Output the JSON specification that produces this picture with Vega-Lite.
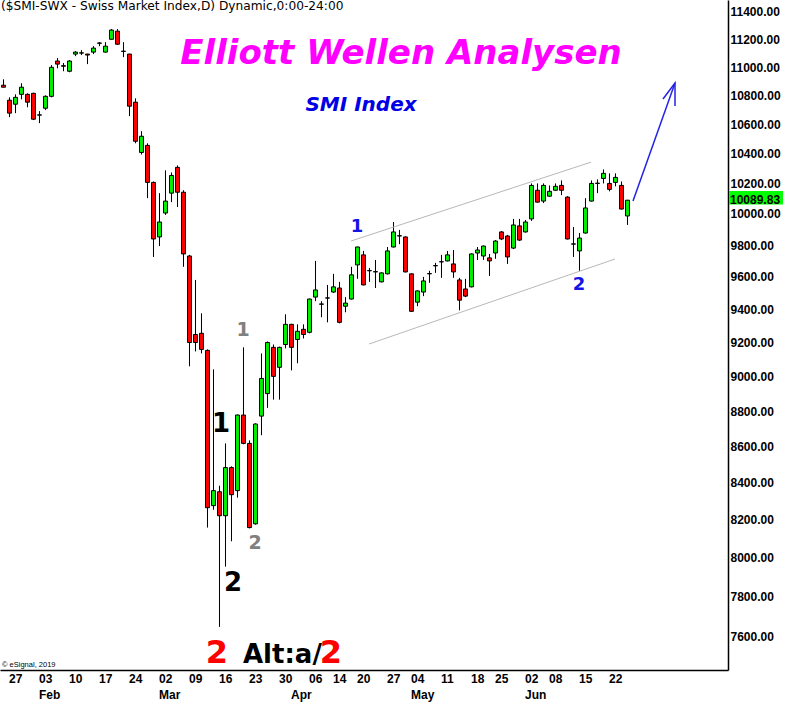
{
  "$schema": "https://vega.github.io/schema/vega-lite/v6.json",
  "width": 728,
  "height": 670,
  "autosize": {"type": "none"},
  "padding": {"left": 0, "top": 0, "right": 58, "bottom": 37},
  "background": "#ffffff",
  "config": {"view": {"stroke": null}},
  "data": {"values": [
    {"date":"2020-01-24","open":10871,"high":10913,"low":10857,"close":10857},
    {"date":"2020-01-27","open":10766,"high":10786,"low":10648,"close":10676},
    {"date":"2020-01-28","open":10738,"high":10807,"low":10676,"close":10786},
    {"date":"2020-01-29","open":10807,"high":10885,"low":10772,"close":10857},
    {"date":"2020-01-30","open":10807,"high":10814,"low":10717,"close":10752},
    {"date":"2020-01-31","open":10814,"high":10818,"low":10628,"close":10634},
    {"date":"2020-02-03","open":10662,"high":10690,"low":10607,"close":10664},
    {"date":"2020-02-04","open":10710,"high":10800,"low":10697,"close":10793},
    {"date":"2020-02-05","open":10793,"high":11014,"low":10786,"close":10998},
    {"date":"2020-02-06","open":11043,"high":11064,"low":10991,"close":11021},
    {"date":"2020-02-07","open":11010,"high":11029,"low":10970,"close":11006},
    {"date":"2020-02-10","open":10970,"high":11050,"low":10963,"close":11043},
    {"date":"2020-02-11","open":11093,"high":11114,"low":11078,"close":11107},
    {"date":"2020-02-12","open":11100,"high":11121,"low":11086,"close":11102},
    {"date":"2020-02-13","open":11093,"high":11095,"low":11021,"close":11086},
    {"date":"2020-02-14","open":11107,"high":11150,"low":11093,"close":11136},
    {"date":"2020-02-17","open":11171,"high":11179,"low":11150,"close":11173},
    {"date":"2020-02-18","open":11107,"high":11179,"low":11105,"close":11150},
    {"date":"2020-02-19","open":11200,"high":11274,"low":11198,"close":11267},
    {"date":"2020-02-20","open":11259,"high":11274,"low":11160,"close":11164},
    {"date":"2020-02-21","open":11114,"high":11179,"low":11071,"close":11112},
    {"date":"2020-02-24","open":11093,"high":11095,"low":10655,"close":10724},
    {"date":"2020-02-25","open":10752,"high":10779,"low":10469,"close":10483},
    {"date":"2020-02-26","open":10407,"high":10552,"low":10393,"close":10517},
    {"date":"2020-02-27","open":10455,"high":10469,"low":10103,"close":10207},
    {"date":"2020-02-28","open":10207,"high":10213,"low":9725,"close":9839},
    {"date":"2020-03-02","open":9852,"high":10136,"low":9794,"close":9948},
    {"date":"2020-03-03","open":10006,"high":10287,"low":9994,"close":10084},
    {"date":"2020-03-04","open":10136,"high":10273,"low":10077,"close":10253},
    {"date":"2020-03-05","open":10307,"high":10320,"low":10045,"close":10142},
    {"date":"2020-03-06","open":10142,"high":10155,"low":9663,"close":9744},
    {"date":"2020-03-09","open":9731,"high":9738,"low":9059,"close":9200},
    {"date":"2020-03-10","open":9248,"high":9581,"low":9147,"close":9200},
    {"date":"2020-03-11","open":9255,"high":9376,"low":9135,"close":9159},
    {"date":"2020-03-12","open":9153,"high":9159,"low":8159,"close":8265},
    {"date":"2020-03-13","open":8276,"high":9041,"low":8254,"close":8357},
    {"date":"2020-03-16","open":8351,"high":8384,"low":7650,"close":8222},
    {"date":"2020-03-17","open":8222,"high":8617,"low":7955,"close":8483},
    {"date":"2020-03-18","open":8483,"high":8490,"low":8087,"close":8335},
    {"date":"2020-03-19","open":8357,"high":8780,"low":8319,"close":8777},
    {"date":"2020-03-20","open":8777,"high":9171,"low":8612,"close":8617},
    {"date":"2020-03-23","open":8617,"high":8634,"low":8155,"close":8159},
    {"date":"2020-03-24","open":8179,"high":8730,"low":8175,"close":8726},
    {"date":"2020-03-25","open":8771,"high":9135,"low":8663,"close":8988},
    {"date":"2020-03-26","open":8900,"high":9206,"low":8818,"close":9200},
    {"date":"2020-03-27","open":9171,"high":9188,"low":8865,"close":9000},
    {"date":"2020-03-30","open":9053,"high":9175,"low":8865,"close":9171},
    {"date":"2020-03-31","open":9188,"high":9370,"low":9165,"close":9309},
    {"date":"2020-04-01","open":9309,"high":9312,"low":9035,"close":9171},
    {"date":"2020-04-02","open":9218,"high":9309,"low":9077,"close":9267},
    {"date":"2020-04-03","open":9279,"high":9309,"low":9224,"close":9248},
    {"date":"2020-04-06","open":9261,"high":9466,"low":9255,"close":9463},
    {"date":"2020-04-07","open":9475,"high":9700,"low":9450,"close":9519},
    {"date":"2020-04-08","open":9431,"high":9450,"low":9352,"close":9433},
    {"date":"2020-04-09","open":9469,"high":9550,"low":9321,"close":9470},
    {"date":"2020-04-14","open":9506,"high":9619,"low":9500,"close":9538},
    {"date":"2020-04-15","open":9531,"high":9569,"low":9315,"close":9321},
    {"date":"2020-04-16","open":9419,"high":9475,"low":9382,"close":9438},
    {"date":"2020-04-17","open":9463,"high":9663,"low":9460,"close":9613},
    {"date":"2020-04-20","open":9675,"high":9790,"low":9588,"close":9788},
    {"date":"2020-04-21","open":9738,"high":9763,"low":9548,"close":9550},
    {"date":"2020-04-22","open":9638,"high":9656,"low":9569,"close":9640},
    {"date":"2020-04-23","open":9631,"high":9706,"low":9531,"close":9633},
    {"date":"2020-04-24","open":9569,"high":9628,"low":9566,"close":9625},
    {"date":"2020-04-27","open":9619,"high":9788,"low":9615,"close":9763},
    {"date":"2020-04-28","open":9788,"high":9948,"low":9785,"close":9884},
    {"date":"2020-04-29","open":9858,"high":9897,"low":9806,"close":9860},
    {"date":"2020-04-30","open":9852,"high":9855,"low":9628,"close":9631},
    {"date":"2020-05-04","open":9619,"high":9622,"low":9385,"close":9388},
    {"date":"2020-05-05","open":9444,"high":9516,"low":9419,"close":9513},
    {"date":"2020-05-06","open":9506,"high":9600,"low":9481,"close":9575},
    {"date":"2020-05-07","open":9619,"high":9638,"low":9563,"close":9621},
    {"date":"2020-05-08","open":9669,"high":9688,"low":9625,"close":9671},
    {"date":"2020-05-11","open":9694,"high":9738,"low":9594,"close":9695},
    {"date":"2020-05-12","open":9700,"high":9763,"low":9697,"close":9738},
    {"date":"2020-05-13","open":9681,"high":9769,"low":9594,"close":9631},
    {"date":"2020-05-14","open":9581,"high":9594,"low":9394,"close":9456},
    {"date":"2020-05-15","open":9525,"high":9588,"low":9475,"close":9481},
    {"date":"2020-05-18","open":9538,"high":9747,"low":9535,"close":9744},
    {"date":"2020-05-19","open":9750,"high":9788,"low":9706,"close":9769},
    {"date":"2020-05-20","open":9731,"high":9797,"low":9706,"close":9794},
    {"date":"2020-05-22","open":9719,"high":9744,"low":9606,"close":9700},
    {"date":"2020-05-25","open":9750,"high":9832,"low":9713,"close":9826},
    {"date":"2020-05-26","open":9884,"high":9890,"low":9832,"close":9839},
    {"date":"2020-05-27","open":9858,"high":9865,"low":9681,"close":9725},
    {"date":"2020-05-28","open":9781,"high":9968,"low":9775,"close":9929},
    {"date":"2020-05-29","open":9923,"high":9968,"low":9826,"close":9832},
    {"date":"2020-06-02","open":9884,"high":9961,"low":9880,"close":9948},
    {"date":"2020-06-03","open":9968,"high":10200,"low":9955,"close":10187},
    {"date":"2020-06-04","open":10155,"high":10200,"low":10074,"close":10077},
    {"date":"2020-06-05","open":10084,"high":10200,"low":10071,"close":10187},
    {"date":"2020-06-08","open":10116,"high":10187,"low":10113,"close":10148},
    {"date":"2020-06-09","open":10155,"high":10200,"low":10152,"close":10181},
    {"date":"2020-06-10","open":10187,"high":10220,"low":10123,"close":10155},
    {"date":"2020-06-11","open":10110,"high":10116,"low":9836,"close":9839},
    {"date":"2020-06-12","open":9806,"high":9916,"low":9725,"close":9808},
    {"date":"2020-06-15","open":9763,"high":9877,"low":9638,"close":9845},
    {"date":"2020-06-16","open":9877,"high":10103,"low":9874,"close":10039},
    {"date":"2020-06-17","open":10084,"high":10220,"low":10081,"close":10200},
    {"date":"2020-06-18","open":10200,"high":10227,"low":10136,"close":10202},
    {"date":"2020-06-19","open":10233,"high":10293,"low":10200,"close":10267},
    {"date":"2020-06-22","open":10200,"high":10267,"low":10148,"close":10161},
    {"date":"2020-06-23","open":10207,"high":10267,"low":10181,"close":10240},
    {"date":"2020-06-24","open":10187,"high":10213,"low":10029,"close":10032},
    {"date":"2020-06-25","open":9987,"high":10090,"low":9929,"close":10089.83}
  ]},
  "encoding": {
    "x": {
      "field": "date", "type": "ordinal",
      "scale": {"type": "band", "paddingInner": 0, "paddingOuter": 0.6667, "align": 0,
        "domain": ["2020-01-24","2020-01-27","2020-01-28","2020-01-29","2020-01-30","2020-01-31",
          "2020-02-03","2020-02-04","2020-02-05","2020-02-06","2020-02-07",
          "2020-02-10","2020-02-11","2020-02-12","2020-02-13","2020-02-14",
          "2020-02-17","2020-02-18","2020-02-19","2020-02-20","2020-02-21",
          "2020-02-24","2020-02-25","2020-02-26","2020-02-27","2020-02-28",
          "2020-03-02","2020-03-03","2020-03-04","2020-03-05","2020-03-06",
          "2020-03-09","2020-03-10","2020-03-11","2020-03-12","2020-03-13",
          "2020-03-16","2020-03-17","2020-03-18","2020-03-19","2020-03-20",
          "2020-03-23","2020-03-24","2020-03-25","2020-03-26","2020-03-27",
          "2020-03-30","2020-03-31","2020-04-01","2020-04-02","2020-04-03",
          "2020-04-06","2020-04-07","2020-04-08","2020-04-09",
          "2020-04-14","2020-04-15","2020-04-16","2020-04-17",
          "2020-04-20","2020-04-21","2020-04-22","2020-04-23","2020-04-24",
          "2020-04-27","2020-04-28","2020-04-29","2020-04-30",
          "2020-05-04","2020-05-05","2020-05-06","2020-05-07","2020-05-08",
          "2020-05-11","2020-05-12","2020-05-13","2020-05-14","2020-05-15",
          "2020-05-18","2020-05-19","2020-05-20","2020-05-22",
          "2020-05-25","2020-05-26","2020-05-27","2020-05-28","2020-05-29",
          "2020-06-02","2020-06-03","2020-06-04","2020-06-05",
          "2020-06-08","2020-06-09","2020-06-10","2020-06-11","2020-06-12",
          "2020-06-15","2020-06-16","2020-06-17","2020-06-18","2020-06-19",
          "2020-06-22","2020-06-23","2020-06-24","2020-06-25",
          "2020-06-26","2020-06-29","2020-06-30","2020-07-01","2020-07-02","2020-07-03",
          "2020-07-06","2020-07-07","2020-07-08","2020-07-09","2020-07-10",
          "2020-07-13","2020-07-14","2020-07-15","2020-07-16"]},
      "axis": {
        "orient": "bottom", "title": null, "grid": false, "ticks": false, "tickSize": 0,
        "labelAngle": 0, "labelAlign": "left", "labelBaseline": "top", "labelPadding": 3,
        "labelFont": "Liberation Sans", "labelFontSize": 12, "labelFontWeight": "bold", "labelColor": "#000000",
        "labelLineHeight": 16, "labelOverlap": false, "labelBound": false, "labelFlush": false,
        "domainColor": "#000000", "domainWidth": 1.5,
        "values": ["2020-01-27","2020-02-03","2020-02-10","2020-02-17","2020-02-24","2020-03-02","2020-03-09","2020-03-16","2020-03-23","2020-03-30","2020-04-01","2020-04-06","2020-04-14","2020-04-20","2020-04-27","2020-05-04","2020-05-11","2020-05-18","2020-05-25","2020-06-02","2020-06-08","2020-06-15","2020-06-22"],
        "labelExpr": "datum.value == '2020-02-03' ? ['03', 'Feb'] : datum.value == '2020-03-02' ? ['02', 'Mar'] : datum.value == '2020-04-01' ? ['', 'Apr'] : datum.value == '2020-05-04' ? ['04', 'May'] : datum.value == '2020-06-02' ? ['02', 'Jun'] : substring(datum.value, 8, 10)"
      }
    },
    "y": {
      "field": "price", "type": "quantitative",
      "scale": {"type": "log", "domain": [7439, 11489], "nice": false, "zero": false},
      "axis": {
        "orient": "right", "title": null, "grid": false, "ticks": false, "tickSize": 0,
        "values": [7600,7800,8000,8200,8400,8600,8800,9000,9200,9400,9600,9800,10000,10200,10400,10600,10800,11000,11200,11400],
        "format": ".2f", "labelPadding": 2,
        "labelFont": "Liberation Sans", "labelFontSize": 12, "labelFontWeight": "bold", "labelColor": "#000000",
        "labelOverlap": false, "labelBound": false, "labelFlush": false,
        "domainColor": "#000000", "domainWidth": 1.5
      }
    }
  },
  "layer": [
    {
      "mark": {"type": "rule", "color": "#000000", "strokeWidth": 1, "xOffset": 0.5},
      "encoding": {
        "y": {"field": "low", "type": "quantitative", "scale": {"type": "log", "domain": [7439, 11489], "nice": false, "zero": false}},
        "y2": {"field": "high"}
      }
    },
    {
      "mark": {"type": "bar", "size": 4, "stroke": "#000000", "strokeWidth": 1, "xOffset": 0.5},
      "encoding": {
        "y": {"field": "open", "type": "quantitative", "scale": {"type": "log", "domain": [7439, 11489], "nice": false, "zero": false}},
        "y2": {"field": "close"},
        "fill": {"condition": {"test": "datum.close >= datum.open", "value": "#00ee00"}, "value": "#ff0000"}
      }
    },
    {
      "data": {"values": [
        {"line": "upper", "date": "2020-04-17", "price": 9826},
        {"line": "upper", "date": "2020-06-17", "price": 10342},
        {"line": "lower", "date": "2020-04-22", "price": 9191},
        {"line": "lower", "date": "2020-06-23", "price": 9712}
      ]},
      "mark": {"type": "line", "color": "#b8b8b8", "strokeWidth": 1},
      "encoding": {"detail": {"field": "line"}}
    },
    {
      "data": {"values": [
        {"seg": "shaft", "step": 1, "date": "2020-06-26", "price": 10084},
        {"seg": "shaft", "step": 2, "date": "2020-07-07", "price": 10887},
        {"seg": "head", "step": 1, "date": "2020-07-03", "price": 10774},
        {"seg": "head", "step": 2, "date": "2020-07-07", "price": 10887},
        {"seg": "head", "step": 3, "date": "2020-07-07", "price": 10725}
      ]},
      "mark": {"type": "line", "color": "#2323e6", "strokeWidth": 1.5},
      "encoding": {"detail": {"field": "seg"}, "order": {"field": "step", "type": "quantitative"}}
    },
    {
      "data": {"values": [{"text": "($SMI-SWX - Swiss Market Index,D) Dynamic,0:00-24:00", "date": "2020-01-24", "price": 11441}]},
      "mark": {"type": "text", "align": "left", "baseline": "middle", "dx": -2, "font": "DejaVu Sans", "fontSize": 12.2, "color": "#000000"},
      "encoding": {"text": {"field": "text"}}
    },
    {
      "data": {"values": [{"text": "Elliott Wellen Analysen", "date": "2020-04-29", "price": 11021}]},
      "mark": {"type": "text", "align": "center", "baseline": "alphabetic", "dx": 2, "font": "DejaVu Sans", "fontSize": 34, "fontWeight": "bold", "fontStyle": "italic", "color": "#ff00ff"},
      "encoding": {"text": {"field": "text"}}
    },
    {
      "data": {"values": [{"text": "SMI Index", "date": "2020-04-21", "price": 10690}]},
      "mark": {"type": "text", "align": "center", "baseline": "alphabetic", "dx": -2, "font": "DejaVu Sans", "fontSize": 20, "fontWeight": "bold", "fontStyle": "italic", "color": "#0000e6"},
      "encoding": {"text": {"field": "text"}}
    },
    {
      "data": {"values": [
        {"text": "1", "date": "2020-04-20", "price": 9884},
        {"text": "2", "date": "2020-06-15", "price": 9519}
      ]},
      "mark": {"type": "text", "align": "center", "baseline": "alphabetic", "font": "DejaVu Sans", "fontSize": 18, "fontWeight": "bold", "color": "#1414e6"},
      "encoding": {"text": {"field": "text"}}
    },
    {
      "data": {"values": [
        {"text": "1", "date": "2020-03-20", "price": 9236},
        {"text": "2", "date": "2020-03-24", "price": 8046}
      ]},
      "mark": {"type": "text", "align": "center", "baseline": "alphabetic", "font": "DejaVu Sans", "fontSize": 19, "fontWeight": "bold", "color": "#808080"},
      "encoding": {"text": {"field": "text"}}
    },
    {
      "data": {"values": [
        {"text": "1", "date": "2020-03-16", "price": 8680},
        {"text": "2", "date": "2020-03-18", "price": 7830}
      ]},
      "mark": {"type": "text", "align": "center", "baseline": "alphabetic", "dx": 2, "font": "DejaVu Sans", "fontSize": 26, "fontWeight": "bold", "color": "#000000"},
      "encoding": {"text": {"field": "text"}}
    },
    {
      "data": {"values": [
        {"text": "2", "date": "2020-03-16", "price": 7472},
        {"text": "2", "date": "2020-04-14", "price": 7472}
      ]},
      "mark": {"type": "text", "align": "center", "baseline": "alphabetic", "dx": -2, "font": "DejaVu Sans", "fontSize": 32, "fontWeight": "bold", "color": "#ff0000"},
      "encoding": {"text": {"field": "text"}}
    },
    {
      "data": {"values": [{"text": "Alt:a/", "date": "2020-03-20", "price": 7472}]},
      "mark": {"type": "text", "align": "left", "baseline": "alphabetic", "font": "DejaVu Sans", "fontSize": 26, "fontWeight": "bold", "color": "#000000"},
      "encoding": {"text": {"field": "text"}}
    },
    {
      "data": {"values": [{"text": "© eSignal, 2019", "date": "2020-01-24", "price": 7453}]},
      "mark": {"type": "text", "align": "left", "baseline": "alphabetic", "dx": -1, "font": "Liberation Sans", "fontSize": 7.5, "color": "#000000"},
      "encoding": {"text": {"field": "text"}}
    },
    {
      "data": {"values": [{"label": "10089.83", "price": 10089.83}]},
      "mark": {"type": "rect", "color": "#00ff00", "xOffset": 1, "x2Offset": 55},
      "encoding": {
        "x": {"value": "width"},
        "x2": {"value": "width"},
        "y": {"datum": 10150, "type": "quantitative", "scale": {"type": "log", "domain": [7439, 11489], "nice": false, "zero": false}},
        "y2": {"datum": 10062}
      }
    },
    {
      "data": {"values": [{"label": "10089.83", "price": 10089.83}]},
      "mark": {"type": "text", "align": "left", "baseline": "middle", "dx": 2, "font": "Liberation Sans", "fontSize": 12, "fontWeight": "bold", "color": "#000000"},
      "encoding": {
        "x": {"value": "width"},
        "text": {"field": "label"}
      }
    }
  ]
}
